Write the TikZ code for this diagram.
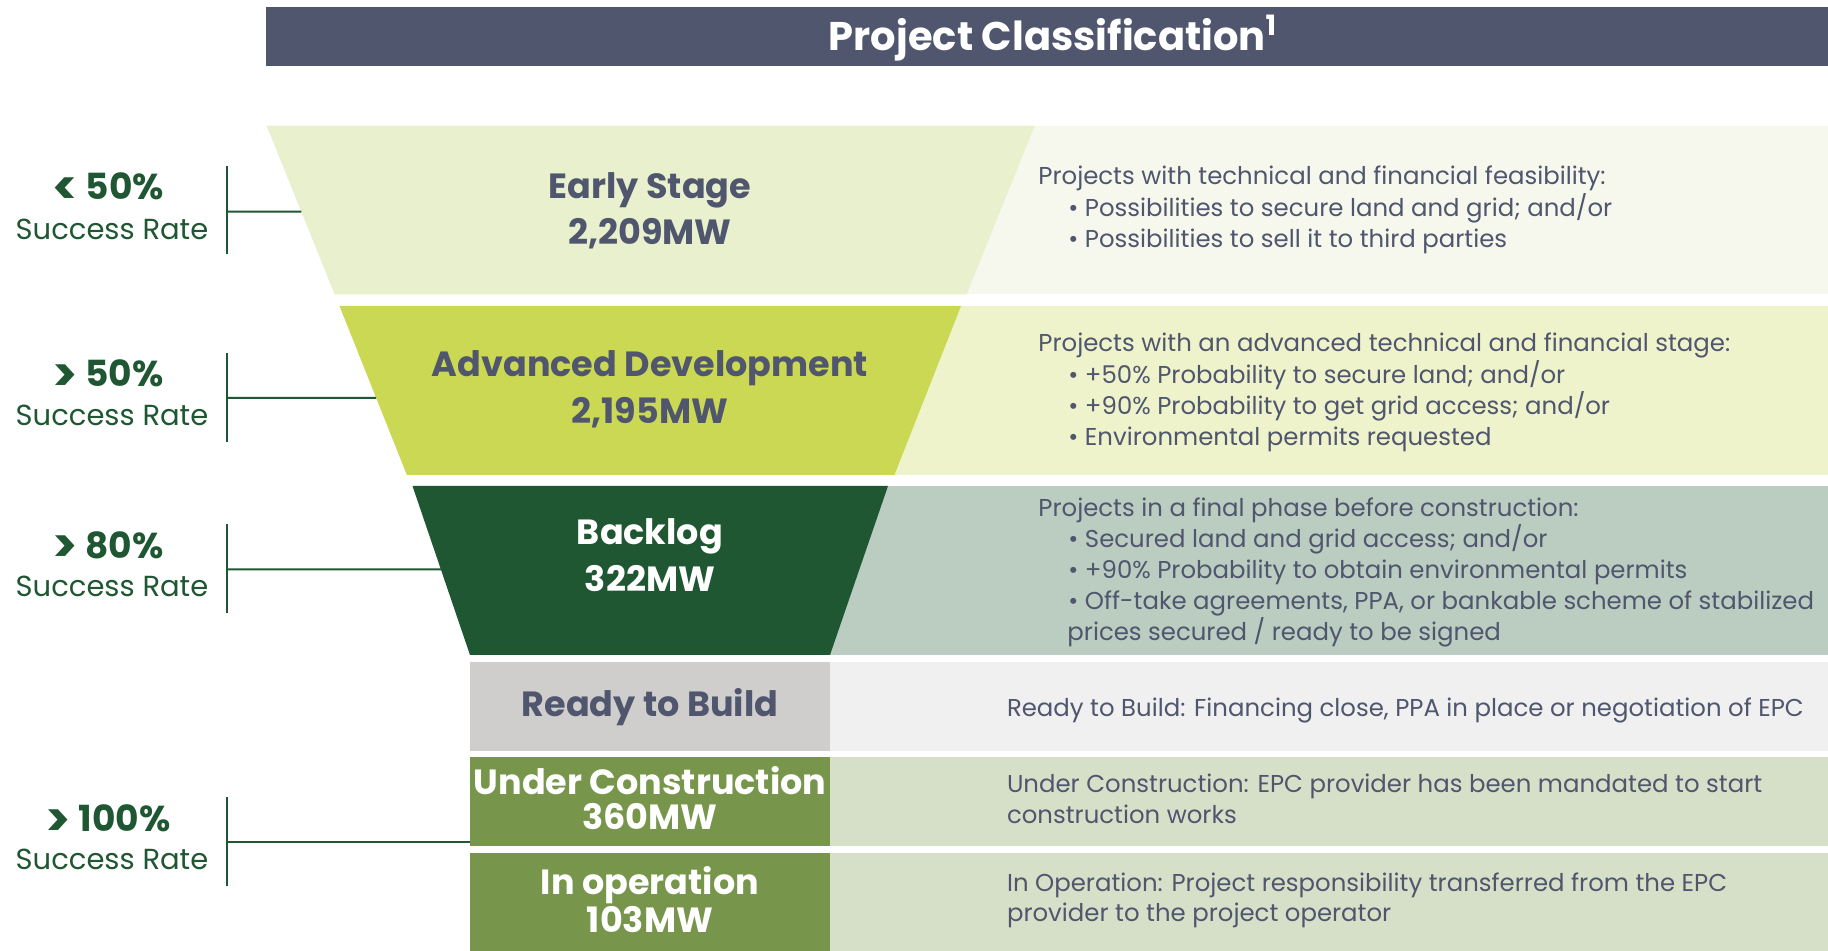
\documentclass[tikz,border=0pt]{standalone}
\usepackage{fontspec}
\setmainfont{Poppins}
\usetikzlibrary{positioning,calc}

\definecolor{slate}{HTML}{4F566E}
\definecolor{earlyfill}{HTML}{E8F0CD}
\definecolor{earlypanel}{HTML}{F6F8EE}
\definecolor{advfill}{HTML}{CBD853}
\definecolor{advpanel}{HTML}{EEF3CB}
\definecolor{backfill}{HTML}{1F5733}
\definecolor{backpanel}{HTML}{BBCCC0}
\definecolor{rtbfill}{HTML}{CFCECC}
\definecolor{rtbpanel}{HTML}{F0F0F0}
\definecolor{opfill}{HTML}{77964B}
\definecolor{oppanel}{HTML}{D6E0C8}
\definecolor{rategreen}{HTML}{1F5733}

\tikzset{
  stage/.style={font=\bfseries\fontsize{17.5}{20}\selectfont,text=slate,anchor=base,inner sep=0pt},
  desc/.style={font=\fontsize{12.2}{14}\selectfont,text=slate,anchor=base west,inner sep=0pt},
  rate/.style={font=\bfseries\fontsize{18}{21}\selectfont,text=rategreen,anchor=base,inner sep=0pt},
  ratesub/.style={font=\fontsize{14.5}{17}\selectfont,text=rategreen,anchor=base,inner sep=0pt},
  bracket/.style={draw=rategreen,line width=1pt}
}
\newcommand{\chev}[1]{\raisebox{-2.2pt}{\scalebox{1.3}{#1}}}

\begin{document}
\begin{tikzpicture}[x=0.5pt,y=-0.5pt]
\useasboundingbox (0,0) rectangle (1828,951);

% title bar
\fill[slate] (266,7) rectangle (1828,66);
\node (title) at (1053,51) [anchor=base,inner sep=0pt,text=white,font=\bfseries\fontsize{20}{23}\selectfont] {Project Classification\textsuperscript{1}};

% row panels
\fill[earlypanel] (900,125.7) rectangle (1828,294.3);
\fill[advpanel] (850,306) rectangle (1828,475);
\fill[backpanel] (800,486) rectangle (1828,655);
\fill[rtbpanel] (830,662.3) rectangle (1828,750.7);
\fill[oppanel] (830,757) rectangle (1828,845.7);
\fill[oppanel] (830,853) rectangle (1828,951);

% funnel
\coordinate (es-tl) at (266.6,125.7); \coordinate (es-tr) at (1034.7,125.7);
\coordinate (es-br) at (966.7,294.3); \coordinate (es-bl) at (334.6,294.3);
\fill[earlyfill] (es-tl) -- (es-tr) -- (es-br) -- (es-bl) -- cycle;
\coordinate (ad-tl) at (339.5,306); \coordinate (ad-tr) at (961,306);
\coordinate (ad-br) at (894.4,475); \coordinate (ad-bl) at (406.9,475);
\fill[advfill] (ad-tl) -- (ad-tr) -- (ad-br) -- (ad-bl) -- cycle;
\coordinate (bl-tl) at (412.5,486); \coordinate (bl-tr) at (888,486);
\coordinate (bl-br) at (830,655); \coordinate (bl-bl) at (470,655);
\fill[backfill] (bl-tl) -- (bl-tr) -- (bl-br) -- (bl-bl) -- cycle;
\fill[rtbfill] (470,662.3) rectangle (830,750.7);
\fill[opfill] (470,757) rectangle (830,845.7);
\fill[opfill] (470,853) rectangle (830,951);

% stage names
\node[stage] (early) at (650,198.3) {Early Stage};
\node[stage] (earlymw) at (650,245) {2,209MW};
\node[stage] (adv) at (650,376.7) {Advanced Development};
\node[stage] (advmw) at (650,423.3) {2,195MW};
\node[stage,text=white] (back) at (650,545) {Backlog};
\node[stage,text=white] (backmw) at (650,591.7) {322MW};
\node[stage] (rtb) at (650,716.7) {Ready to Build};
\node[stage,text=white] (uc) at (650,795) {Under Construction};
\node[stage,text=white] (ucmw) at (650,830) {360MW};
\node[stage,text=white] (io) at (650,895) {In operation};
\node[stage,text=white] (iomw) at (650,932.5) {103MW};

% descriptions
\node[desc] (d1) at (1038,185) {Projects with technical and financial feasibility:};
\node[desc] (d1a) at (1068,216.7) {• Possibilities to secure land and grid; and/or};
\node[desc] (d1b) at (1068,248) {• Possibilities to sell it to third parties};
\node[desc] (d2) at (1038,351.7) {Projects with an advanced technical and financial stage:};
\node[desc] (d2a) at (1068,383.3) {• +50\% Probability to secure land; and/or};
\node[desc] (d2b) at (1068,415) {• +90\% Probability to get grid access; and/or};
\node[desc] (d2c) at (1068,446) {• Environmental permits requested};
\node[desc] (d3) at (1038,516.7) {Projects in a final phase before construction:};
\node[desc] (d3a) at (1068,547.7) {• Secured land and grid access; and/or};
\node[desc] (d3b) at (1068,578.3) {• +90\% Probability to obtain environmental permits};
\node[desc] (d3c) at (1068,610) {• Off-take agreements, PPA, or bankable scheme of stabilized};
\node[desc] (d3d) at (1067,641) {prices secured / ready to be signed};
\node[desc] (d4) at (1006.6,717) {Ready to Build: Financing close, PPA in place or negotiation of EPC};
\node[desc] (d5) at (1006.6,793) {Under Construction: EPC provider has been mandated to start};
\node[desc] (d5a) at (1006.6,824) {construction works};
\node[desc] (d6) at (1006.6,891.7) {In Operation: Project responsibility transferred from the EPC};
\node[desc] (d6a) at (1006.6,922) {provider to the project operator};

% success rates
\node[rate] (r1) at (108,200) {\chev{<} 50\%};
\node[ratesub] (r1s) at (112,239.3) {Success Rate};
\node[rate] (r2) at (108,386.7) {\chev{>} 50\%};
\node[ratesub] (r2s) at (112,426) {Success Rate};
\node[rate] (r3) at (108,558.3) {\chev{>} 80\%};
\node[ratesub] (r3s) at (112,596.7) {Success Rate};
\node[rate] (r4) at (108,831.7) {\chev{>} 100\%};
\node[ratesub] (r4s) at (112,870) {Success Rate};

% brackets
\coordinate (b1t) at (226.6,166); \coordinate (b1b) at (226.6,254); \coordinate (b1m) at (226.6,211.7);
\coordinate (b1e) at ($(es-tl)!0.51!(es-bl)$);
\draw[bracket] (b1t) -- (b1b); \draw[bracket] (b1m) -- (b1e);
\coordinate (b2t) at (226.6,353); \coordinate (b2b) at (226.6,441.7); \coordinate (b2m) at (226.6,398);
\coordinate (b2e) at ($(ad-tl)!0.544!(ad-bl)$);
\draw[bracket] (b2t) -- (b2b); \draw[bracket] (b2m) -- (b2e);
\coordinate (b3t) at (226.6,524); \coordinate (b3b) at (226.6,612.7); \coordinate (b3m) at (226.6,569.3);
\coordinate (b3e) at ($(bl-tl)!0.493!(bl-bl)$);
\draw[bracket] (b3t) -- (b3b); \draw[bracket] (b3m) -- (b3e);
\coordinate (b4t) at (226.6,797); \coordinate (b4b) at (226.6,885.7); \coordinate (b4m) at (226.6,842.3);
\coordinate (b4e) at (470,842.3);
\draw[bracket] (b4t) -- (b4b); \draw[bracket] (b4m) -- (b4e);
\end{tikzpicture}
\end{document}
